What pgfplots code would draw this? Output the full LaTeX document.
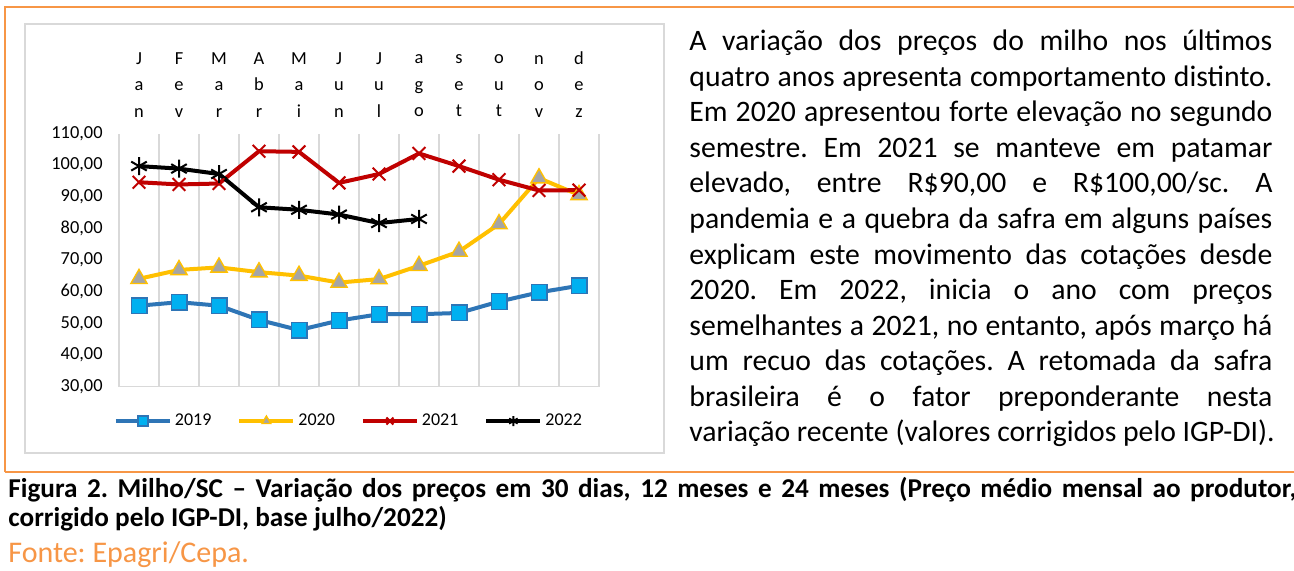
\documentclass[border=0pt]{standalone}
\usepackage{fontspec}
\setmainfont{Carlito}
\usepackage{pgfplots}
\pgfplotsset{compat=1.18}
\frenchspacing
\definecolor{blueL}{HTML}{2E75B6}
\definecolor{cyanM}{HTML}{00B0F0}
\definecolor{goldL}{HTML}{FFC000}
\definecolor{grayM}{HTML}{A5A5A5}
\definecolor{redL}{HTML}{C00000}
\definecolor{gridg}{HTML}{D9D9D9}
\definecolor{orangeF}{HTML}{F79646}
\begin{document}
\frenchspacing
\begin{tikzpicture}
\useasboundingbox (0,0) rectangle (647pt,285pt);
\clip (0,0) rectangle (647pt,285pt);
\fill[white] (0,0) rectangle (647pt,285pt);
\begin{scope}[x=0.5pt,y=-0.5pt,shift={(0pt,285pt)}]
\draw[orangeF, line width=0.6pt] (5,472) -- (5,7) -- (1300,7);
\draw[orangeF, line width=0.6pt] (5,472) -- (1300,472);
\draw[gridg, line width=0.8pt] (25,24) rectangle (664,453);
% paragraph
\begin{scope}[every node/.style={anchor=base west, inner sep=0pt, font=\fontsize{14.85}{17.75}\selectfont}]
\node at (689,50.7)  {\makebox[291.5pt][s]{A variação dos preços do milho nos últimos}};
\node at (689,86.25) {\makebox[291.5pt][s]{quatro anos apresenta comportamento distinto.}};
\node at (689,121.8) {\makebox[291.5pt][s]{Em 2020 apresentou forte elevação no segundo}};
\node at (689,157.35){\makebox[291.5pt][s]{semestre. Em 2021 se manteve em patamar}};
\node at (689,192.9) {\makebox[291.5pt][s]{elevado, entre R\$90,00 e R\$100,00/sc. A}};
\node at (689,228.45){\makebox[291.5pt][s]{pandemia e a quebra da safra em alguns países}};
\node at (689,264.0) {\makebox[291.5pt][s]{explicam este movimento das cotações desde}};
\node at (689,299.55){\makebox[291.5pt][s]{2020. Em 2022, inicia o ano com preços}};
\node at (689,335.1) {\makebox[291.5pt][s]{semelhantes a 2021, no entanto, após março há}};
\node at (689,370.65){\makebox[291.5pt][s]{um recuo das cotações. A retomada da safra}};
\node at (689,406.2) {\makebox[291.5pt][s]{brasileira é o fator preponderante nesta}};
\node at (689,441.75){variação recente (valores corrigidos pelo IGP-DI).};
\end{scope}
% caption
\node[anchor=base west, inner sep=0pt, font=\fontsize{13.6}{15}\selectfont\bfseries] at (8,497)
  {\makebox[644pt][s]{Figura 2. Milho/SC – Variação dos preços em 30 dias, 12 meses e 24 meses (Preço médio mensal ao produtor,}};
\node[anchor=base west, inner sep=0pt, font=\fontsize{13.6}{15}\selectfont\bfseries] at (8,526)
  {corrigido pelo IGP-DI, base julho/2022)};
\node[anchor=base west, inner sep=0pt, font=\fontsize{15}{17}\selectfont, text=orangeF] at (8,562)
  {Fonte: Epagri/Cepa.};
\end{scope}
\begin{axis}[
  at={(59.5pt,91.65pt)}, anchor=south west,
  scale only axis, width=240pt, height=126.6pt,
  xmin=0.5, xmax=12.5, ymin=30, ymax=110,
  axis line style={draw=none},
  xtick={1,...,12},
  xticklabels={{J\\a\\n},{F\\e\\v},{M\\a\\r},{A\\b\\r},{M\\a\\i},{J\\u\\n},{J\\u\\l},{a\\g\\o},{s\\e\\t},{o\\u\\t},{n\\o\\v},{d\\e\\z}},
  xticklabel pos=right,
  xticklabel style={align=center, font=\fontsize{9.2}{13.25}\selectfont, anchor=south, inner sep=0pt, yshift=8pt},
  major tick length=0pt, minor tick length=0pt,
  minor xtick={0.5,1.5,...,12.5},
  xminorgrids, minor grid style={draw=gridg, line width=0.7pt},
  ytick={30,40,...,110},
  yticklabels={{30,00},{40,00},{50,00},{60,00},{70,00},{80,00},{90,00},{100,00},{110,00}},
  yticklabel style={font=\fontsize{9.2}{10}\selectfont, anchor=east, inner sep=0pt, xshift=-8pt},
  legend columns=4,
  legend style={draw=none, fill=none, at={(0.48,-0.1355)}, anchor=center,
    font=\fontsize{9}{10}\selectfont,
    nodes={inner sep=1.5pt},
    /tikz/every even column/.append style={column sep=11.5pt},
    /tikz/every odd column/.append style={column sep=0pt}},
  legend image code/.code={\draw[mark repeat=2,mark phase=2,#1,mark size=2.5pt] plot coordinates {(0pt,0pt) (13.5pt,0pt) (27pt,0pt)};},
  clip=false,
]
\draw[gridg, line width=0.7pt] (axis cs:0.5,30) -- (axis cs:12.5,30);
\addplot[color=blueL, line width=2pt, mark=square*, mark size=3.9pt, mark options={solid, fill=cyanM, draw=blueL, line width=0.7pt}]
 coordinates {(1,55.6)(2,56.7)(3,55.6)(4,51.1)(5,47.9)(6,50.9)(7,52.9)(8,52.9)(9,53.3)(10,56.9)(11,59.8)(12,61.9)};
\addlegendentry{2019}
\addplot[color=goldL, line width=2pt, mark=triangle*, mark size=4.7pt, mark options={solid, fill=grayM, draw=goldL, line width=0.7pt}]
 coordinates {(1,64.1)(2,66.9)(3,67.7)(4,66.2)(5,65.1)(6,62.9)(7,64.0)(8,68.2)(9,72.7)(10,81.4)(11,95.9)(12,90.6)};
\addlegendentry{2020}
\addplot[color=redL, line width=2pt, mark=x, mark size=4.5pt, mark options={solid, draw=redL, line width=1pt}]
 coordinates {(1,94.6)(2,93.9)(3,94.2)(4,104.4)(5,104.2)(6,94.4)(7,97.2)(8,103.7)(9,99.7)(10,95.4)(11,92.0)(12,92.1)};
\addlegendentry{2021}
\addplot[color=black, line width=2pt, mark=asterisk, mark size=4.5pt, mark options={solid, draw=black, line width=1pt}]
 coordinates {(1,99.7)(2,98.9)(3,97.2)(4,86.7)(5,85.9)(6,84.4)(7,81.7)(8,83.0)};
\addlegendentry{2022}
\end{axis}
\end{tikzpicture}
\end{document}
